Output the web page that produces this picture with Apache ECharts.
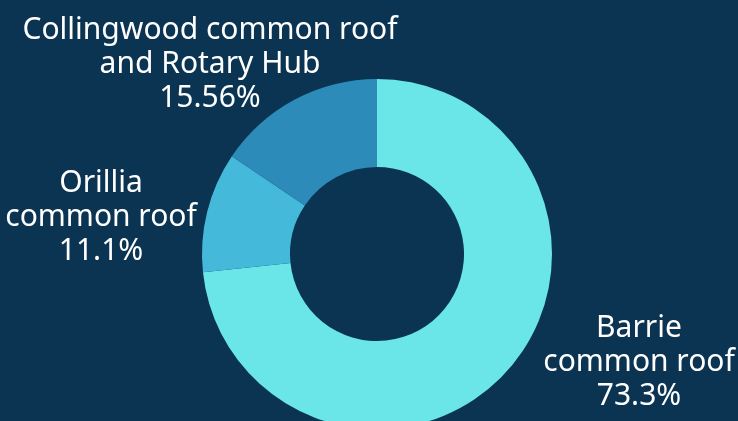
<!DOCTYPE html>
<html><head><meta charset="utf-8">
<script src="https://cdn.jsdelivr.net/npm/echarts@6/dist/echarts.min.js"></script>
<style>html,body{margin:0;padding:0;background:#0a3452;}#c{width:738px;height:421px;}</style>
</head><body><div id="c"></div>
<script>
const categories = ['Barrie\ncommon roof', 'Orillia\ncommon roof', 'Collingwood common roof\nand Rotary Hub'];
const percentLabels = ['73.3%', '11.1%', '15.56%'];
const values = [73.3, 11.1, 15.56];
const colors = ['#6ae5e8', '#44b9d9', '#2d8bba'];
const labelCenters = [[639, 362], [101, 217], [210, 64]];

const chart = echarts.init(document.getElementById('c'));
chart.setOption({
  backgroundColor: '#0a3452',
  animation: false,
  series: [{
    type: 'pie',
    center: [377, 254],
    radius: [87, 175],
    startAngle: 90,
    clockwise: true,
    avoidLabelOverlap: false,
    data: values.map((v, i) => ({ value: v, name: categories[i], itemStyle: { color: colors[i] } })),
    label: {
      show: true,
      position: 'outside',
      color: '#ffffff',
      fontFamily: 'Noto Sans',
      fontSize: 30,
      lineHeight: 34,
      formatter: p => categories[p.dataIndex] + '\n' + percentLabels[p.dataIndex]
    },
    labelLine: { show: false },
    labelLayout: p => ({
      x: labelCenters[p.dataIndex][0],
      y: labelCenters[p.dataIndex][1],
      align: 'center',
      verticalAlign: 'middle'
    })
  }]
});
</script></body></html>
